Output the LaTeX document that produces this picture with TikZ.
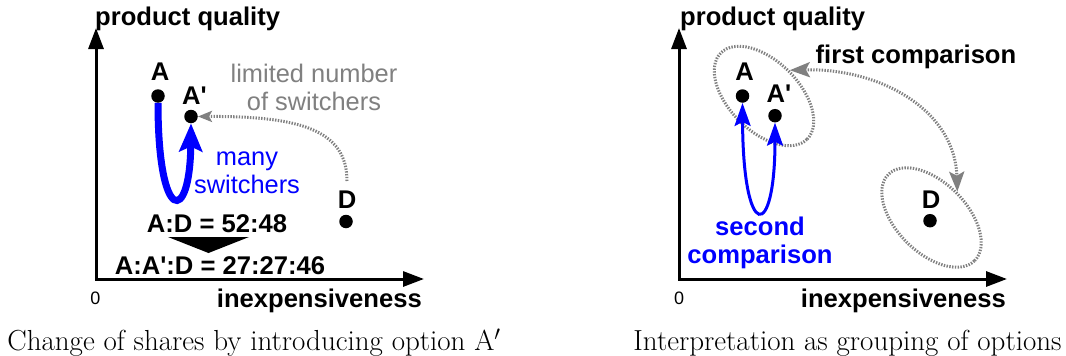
\documentclass[tikz,border=0pt]{standalone}
\usepackage{fontspec}
\newfontfamily\lsans[Ligatures=TeXOff]{Liberation Sans}
\usetikzlibrary{arrows.meta,shapes.geometric,calc}
\tikzset{
  lbl/.style={font=\lsans\bfseries\fontsize{25.6}{28}\selectfont, inner sep=0pt},
  graytxt/.style={font=\lsans\fontsize{25.4}{28}\selectfont, text=gray, inner sep=0pt},
  bluetxt/.style={font=\lsans\fontsize{25.4}{28}\selectfont, text=blue, inner sep=0pt},
  bluebold/.style={lbl, text=blue},
  zerotxt/.style={font=\lsans\fontsize{18}{20}\selectfont, inner sep=0pt},
  captxt/.style={font=\fontsize{29}{34}\selectfont, inner sep=0pt},
  dotnode/.style={circle, fill=black, minimum size=13.5pt, inner sep=0pt},
  axisline/.style={line width=3pt, line join=miter, {Triangle[length=21pt,width=15pt]}-{Triangle[length=21pt,width=15pt]}},
  dotline/.style={draw=gray, line width=3pt, dash pattern=on 1.4pt off 1.4pt},
  grouping/.style={ellipse, dotline, minimum width=122pt, minimum height=70pt, inner sep=0pt, rotate=-45},
  bigblue/.style={draw=blue, line width=7pt, -{Stealth[length=28pt,width=23pt,inset=5pt]}},
  thinblue/.style={draw=blue, line width=3pt, {Stealth[length=23pt,width=16pt,inset=4pt]}-{Stealth[length=23pt,width=16pt,inset=4pt]}},
  grayarrowsmall/.style={dotline, -{Stealth[length=14pt,width=11pt,inset=3pt,color=gray]}},
  grayarrowbig/.style={dotline, {Stealth[length=20pt,width=15pt,inset=4pt,color=gray]}-{Stealth[length=20pt,width=15pt,inset=4pt,color=gray]}},
}
\begin{document}
\begin{tikzpicture}[x=1pt,y=-1pt]
\fill[white] (0,0) rectangle (1066,356);
\useasboundingbox (0,0) rectangle (1066,356);

% ================= left panel =================
\coordinate (Ytop1) at (96,28);
\coordinate (Xend1) at (424,279);
\draw[axisline] (Ytop1) |- (Xend1);
\node[lbl, anchor=base west] (ylab1) at (95,25) {product quality};
\node[lbl, anchor=base east] (xlab1) at (422,307) {inexpensiveness};
\node[zerotxt] (zero1) at (95.5,298) {0};

\node[dotnode] (A1) at (158,96) {};
\node[dotnode] (Ap1) at (191,116.5) {};
\node[dotnode] (D1) at (346,221.5) {};
\node[lbl, anchor=base] (A1l) at (160,80) {A};
\node[lbl, anchor=base] (Ap1l) at (194.5,104) {A'};
\node[lbl, anchor=base] (D1l) at (347,208) {D};

\node[graytxt, anchor=base] (lim1) at (314,82) {limited number};
\node[graytxt, anchor=base] (lim2) at (314,110) {of switchers};
\coordinate (Dtop1) at (347,181);
\draw[grayarrowsmall] (Dtop1) .. controls (347,130) and (300,116) .. (Ap1.east);

\draw[bigblue] (A1.south) .. controls (158,225) and (190,225) .. (Ap1.south);
\node[bluetxt, anchor=base] (many1) at (247,165) {many};
\node[bluetxt, anchor=base] (many2) at (247,193) {switchers};

\node[lbl, anchor=base] (r1) at (217,232) {A:D = 52:48};
\node[lbl, anchor=base] (r2) at (220,274) {A:A':D = 27:27:46};
\fill (168,237) -- (249,237) -- (208.5,253) -- cycle;

\node[captxt, anchor=base] (cap1) at (254,350) {Change of shares by introducing option A$'$};

% ================= right panel =================
\coordinate (Ytop2) at (679,28);
\coordinate (Xend2) at (1007,279);
\draw[axisline] (Ytop2) |- (Xend2);
\node[lbl, anchor=base west] (ylab2) at (680,25) {product quality};
\node[lbl, anchor=base east] (xlab2) at (1006,307) {inexpensiveness};
\node[zerotxt] (zero2) at (679,298) {0};

\node[grouping] (E1) at (764,96) {};
\node[grouping] (E2) at (931.5,217.5) {};

\node[dotnode] (A2) at (742.5,96) {};
\node[dotnode] (Ap2) at (775,115.7) {};
\node[dotnode] (D2) at (930,220.7) {};
\node[lbl, anchor=base] (A2l) at (744.5,80) {A};
\node[lbl, anchor=base] (Ap2l) at (779,102) {A'};
\node[lbl, anchor=base] (D2l) at (931,208) {D};

\draw[grayarrowbig] (E1.north) .. controls (880,68) and (955,110) .. (E2.north);
\node[lbl, anchor=base] (first) at (916,63) {first comparison};

\draw[thinblue] (A2.south) .. controls (743,242) and (775,242) .. (Ap2.south);
\node[bluebold, anchor=base] (sec1) at (760,235) {second};
\node[bluebold, anchor=base] (sec2) at (760,263) {comparison};

\node[captxt, anchor=base] (cap2) at (847.5,350) {Interpretation as grouping of options};
\end{tikzpicture}
\end{document}
